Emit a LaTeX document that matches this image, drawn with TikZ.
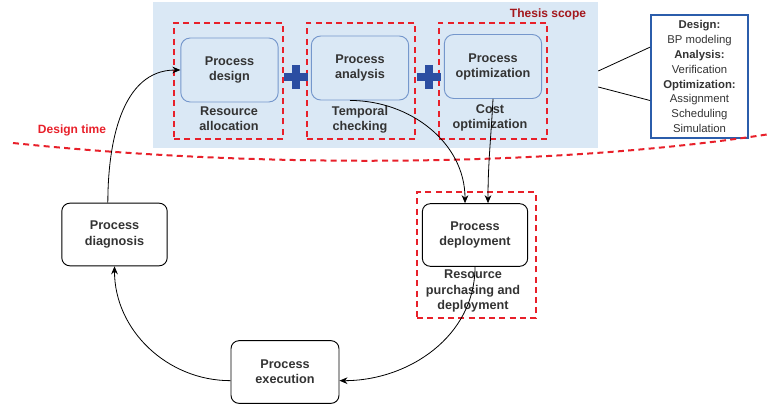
\documentclass[tikz,border=0pt]{standalone}
\usepackage{fontspec}
\setmainfont{Liberation Sans}
\usetikzlibrary{arrows.meta}
\definecolor{scopebg}{HTML}{DAE8F5}
\definecolor{stepline}{HTML}{7597CC}
\definecolor{scopered}{HTML}{E8202A}
\definecolor{titlered}{HTML}{A3171C}
\definecolor{plusblue}{HTML}{2B4EA2}
\definecolor{notesblue}{HTML}{2B5DAB}
\definecolor{txt}{HTML}{333333}
\begin{document}
\begin{tikzpicture}[x=0.75pt,y=-0.75pt,
    lbl/.style={text=txt, align=center, font=\bfseries\fontsize{9.5}{11.3}\selectfont},
    stepbox/.style={lbl, draw=stepline, fill=scopebg, line width=0.7pt, rounded corners=7pt,
      minimum width=73pt, minimum height=48pt},
    phasebox/.style={lbl, draw=black, fill=white, line width=0.7pt, rounded corners=6pt,
      minimum width=79pt, minimum height=47pt},
    redbox/.style={draw=scopered, line width=1.5pt, dash pattern=on 4.5pt off 3.2pt},
    plusbar/.style={draw=plusblue, line width=5.5pt},
    arr/.style={-{Stealth[length=6pt,width=5pt]}, black, line width=0.6pt}]
    \useasboundingbox (0,0) rectangle (770,407);

    % thesis scope
    \node[fill=scopebg, minimum width=333.75pt, minimum height=109.5pt] (scope) at (375.5,75) {};
    \node[text=titlered, font=\bfseries\fontsize{9}{11}\selectfont] (title) at (548,14) {Thesis scope};

    \foreach \n\cx in {rdesign/228.5,ranalysis/361,ropt/493}{
      \node[redbox, minimum width=81.5pt, minimum height=87pt] (\n) at (\cx,81) {};
    }
    \node[stepbox] (design) at (229.5,70) {Process\\design};
    \node[stepbox] (analysis) at (360,68) {Process\\analysis};
    \node[stepbox] (opt) at (493,66.5) {Process\\optimization};

    \node[lbl] (alloc) at (229,119) {Resource\\allocation};
    \node[lbl] (temporal) at (360,120) {Temporal\\checking};
    \node[lbl] (cost) at (490,118) {Cost\\optimization};

    \foreach \px in {296,429}{
      \draw[plusbar] (\px-12,77) -- (\px+12,77) (\px,65) -- (\px,89);
    }

    % methods
    \node[draw=notesblue, line width=1.5pt, fill=white, text=txt, align=center,
      minimum width=72.75pt, minimum height=92pt,
      font=\fontsize{8.5}{11.2}\selectfont] (notes) at (699.5,76.5)
      {\textbf{Design:}\\BP modeling\\\textbf{Analysis:}\\Verification\\\textbf{Optimization:}\\Assignment\\Scheduling\\Simulation};
    \draw[line width=0.6pt] ([yshift=3pt]scope.east) -- ([yshift=22pt]notes.west);
    \draw[line width=0.6pt] ([yshift=-9pt]scope.east) -- ([yshift=-18pt]notes.west);

    % design time
    \draw[redbox] (13,143) .. controls (250,168) and (550,168) .. (770,134);
    \node[text=scopered, font=\bfseries\fontsize{9}{11}\selectfont] (dtime) at (72,130) {Design time};

    % lifecycle
    \node[redbox, minimum width=89pt, minimum height=94.5pt] (rdeploy) at (476.5,255) {};
    \node[phasebox] (deploy) at (475,235) {Process\\deployment};
    \node[lbl] (purchase) at (473,291) {Resource\\purchasing and\\deployment};
    \node[phasebox] (diag) at (114.5,234.5) {Process\\diagnosis};
    \node[phasebox, minimum width=81pt] (exec) at (285,372) {Process\\execution};

    \draw[arr] ([xshift=-5pt]diag.north) to[out=90,in=180] (design.west);
    \draw[arr] ([xshift=-7.5pt]analysis.south) to[out=0,in=90] ([xshift=-7.5pt]deploy.north);
    \draw[arr] (opt.south) to[out=-93,in=90] ([xshift=9.75pt]deploy.north);
    \draw[arr] (deploy.south) to[out=-90,in=0] ([yshift=-6.5pt]exec.east);
    \draw[arr] ([yshift=-6.5pt]exec.west) to[out=180,in=-90] (diag.south);

  \end{tikzpicture}
\end{document}
